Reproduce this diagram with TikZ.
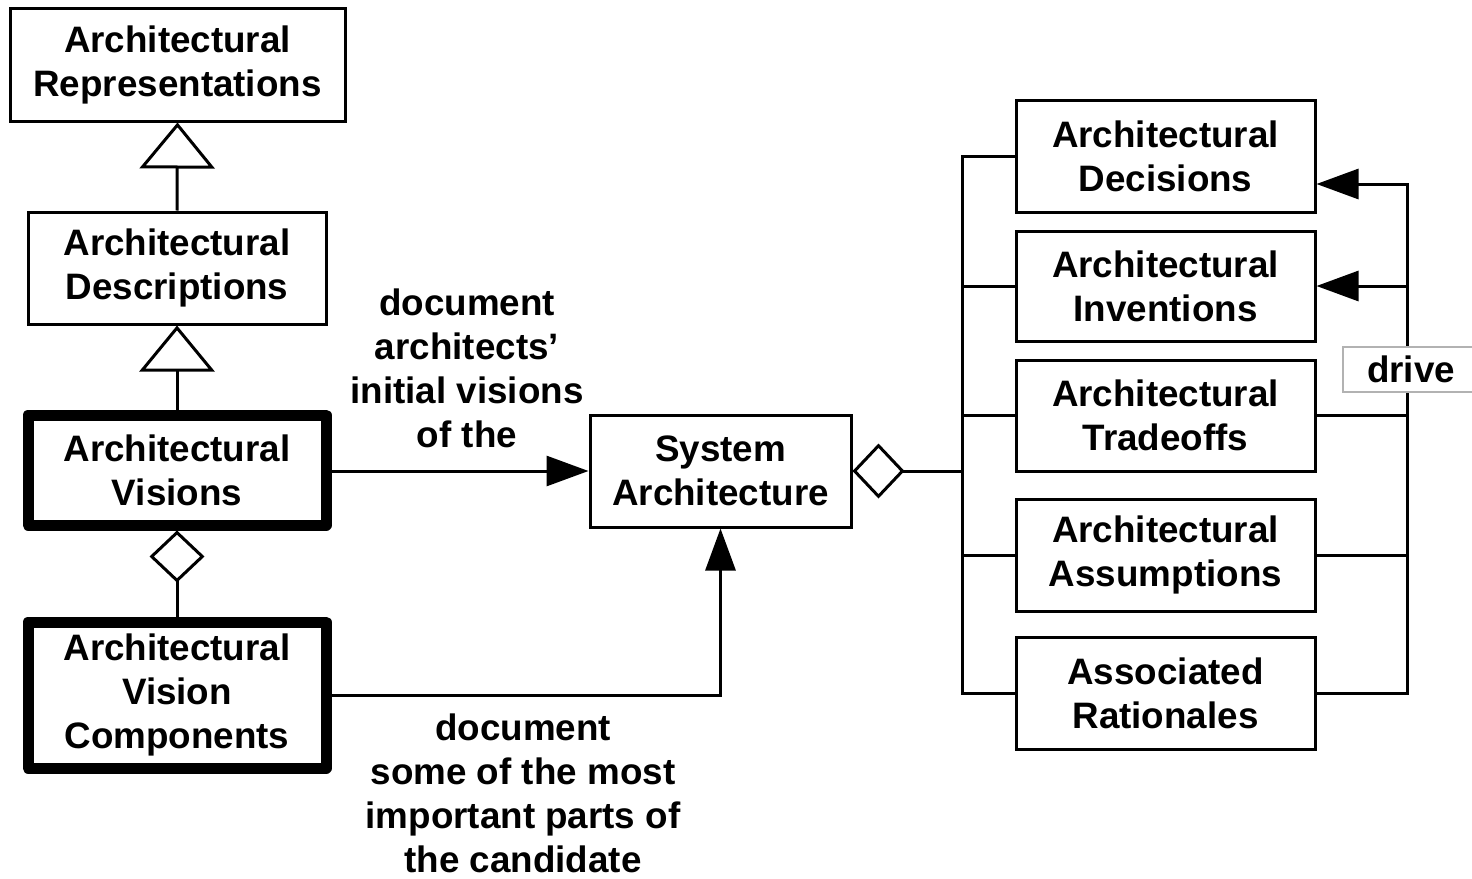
\documentclass[tikz,border=0pt]{standalone}
\usepackage{fontspec}
\setmainfont{Liberation Sans}
\usetikzlibrary{arrows.meta}
\begin{document}
\begin{tikzpicture}[x=0.5pt,y=-0.5pt, line width=1.5pt,
  txt/.style={font=\bfseries\fontsize{18.4}{22}\selectfont, align=center},
  box/.style={txt, draw, line width=1.5pt, inner sep=0pt},
  thickbox/.style={box, line width=5.5pt, line join=round},
  gen/.style={-{Triangle[open, length=23pt, width=37.5pt]}},
  agg/.style={{Diamond[open, length=26pt, width=27.5pt]}-},
  arr/.style={-{Triangle[length=21pt, width=15pt]}},
  lbl/.style={txt, inner sep=0pt}
]
\useasboundingbox (0,0) rectangle (1472,878);
\clip (0,0) rectangle (1472,878);
\fill[white] (0,0) rectangle (1472,878);

% left column
\node[box, minimum width=167.5pt, minimum height=56.5pt] (rep) at (177.5,64.5) {Architectural\\Representations};
\node[box, minimum width=149pt, minimum height=56pt] (desc) at (177,268) {Architectural\\Descriptions};
\node[thickbox, minimum width=149pt, minimum height=55pt] (vis) at (177,470) {Architectural\\Visions};
\node[thickbox, minimum width=149pt, minimum height=73pt] (comp) at (177,695) {Architectural\\Vision\\Components};

% centre
\node[box, minimum width=130.5pt, minimum height=56pt] (sys) at (720.5,471) {System\\Architecture};

% right column
\node[box, minimum width=149.5pt, minimum height=56pt] (dec) at (1165.5,156) {Architectural\\Decisions};
\node[box, minimum width=149.5pt, minimum height=55pt] (inv) at (1165.5,286) {Architectural\\Inventions};
\node[box, minimum width=149.5pt, minimum height=55.5pt] (tra) at (1165.5,415.5) {Architectural\\Tradeoffs};
\node[box, minimum width=149.5pt, minimum height=56pt] (ass) at (1165.5,555) {Architectural\\Assumptions};
\node[box, minimum width=149.5pt, minimum height=56pt] (rat) at (1165.5,693) {Associated\\Rationales};

% generalisation
\draw[gen] (desc.north) -- (rep.south);
\draw[gen] (vis.north) -- (desc.south);
% aggregation
\draw[agg] (vis.south) -- (comp.north);

% associations to system architecture
\draw[arr] (vis.east |- sys.west) -- (sys.west);
\draw[arr] (comp.east) -| (sys.south);

\node[lbl] (l1) at (467,368) {document\\architects’\\initial visions\\of the};
\node[lbl] (l2) at (523,793.5) {document\\some of the most\\important parts of\\the candidate};

% left bus
\coordinate (bx) at (962,0);
\draw[agg] (sys.east) -- (sys.east -| bx);
\draw (dec.west) -- (dec.west -| bx) -- (rat.west -| bx) -- (rat.west);
\draw (inv.west) -- (inv.west -| bx);
\draw (tra.west) -- (tra.west -| bx);
\draw (ass.west) -- (ass.west -| bx);

% right bus
\coordinate (rx) at (1407,0);
\coordinate (dtop) at (1407,184);
\draw[arr] (rat.east) -| (dtop) -- (dtop -| dec.east);
\draw[arr] (inv.east -| rx) -- (inv.east);
\draw (tra.east) -- (tra.east -| rx);
\draw (ass.east) -- (ass.east -| rx);

\node[txt, draw=black!30, line width=0.6pt, fill=white, minimum width=68pt, minimum height=22.5pt, inner sep=0pt] (drive) at (1411,369.5) {drive};
\end{tikzpicture}
\end{document}
